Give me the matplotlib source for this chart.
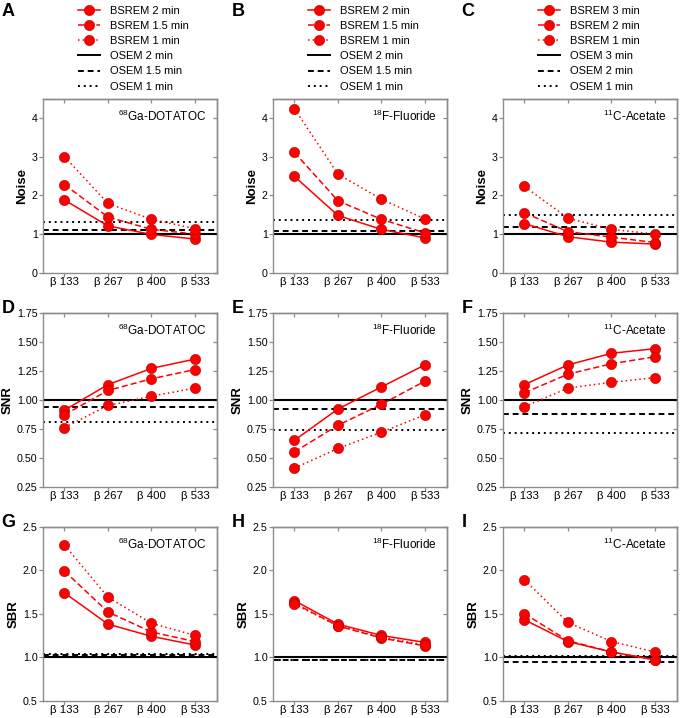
"""Noise / SNR / SBR of BSREM vs OSEM for three tracers, 3x3 panel figure."""

import matplotlib

matplotlib.use("Agg")
import matplotlib.pyplot as plt
from matplotlib.lines import Line2D

RED = "#ff0000"
RED_EDGE = "#b00000"
GREY = "#8c8c8c"

plt.rcParams.update({
    "font.family": ["Liberation Sans", "DejaVu Sans"],
    "mathtext.default": "regular",
    "font.size": 8.2,
    "axes.edgecolor": GREY, "axes.linewidth": 1.0,
    "xtick.color": GREY, "ytick.color": GREY,
    "xtick.labelcolor": "black", "ytick.labelcolor": "black",
    "xtick.labelsize": 8.2, "ytick.labelsize": 7.7,
})

BETAS = ["β 133", "β 267", "β 400", "β 533"]
TRACERS = ["$^{68}$Ga-DOTATOC", "$^{18}$F-Fluoride", "$^{11}$C-Acetate"]
SCAN_TIMES = [
    ["2 min", "1.5 min", "1 min"],
    ["2 min", "1.5 min", "1 min"],
    ["3 min", "2 min", "1 min"],
]

# BSREM curves per tracer: longest, middle, shortest scan time
NOISE_GA = [[1.88, 1.21, 0.99, 0.87], [2.28, 1.44, 1.12, 1.00], [3.00, 1.79, 1.38, 1.14]]
NOISE_F = [[2.49, 1.48, 1.12, 0.90], [3.11, 1.86, 1.38, 1.03], [4.24, 2.55, 1.90, 1.39]]
NOISE_C = [[1.27, 0.93, 0.79, 0.74], [1.55, 1.06, 0.92, 0.78], [2.23, 1.41, 1.12, 1.00]]

SNR_GA = [[0.91, 1.13, 1.27, 1.35], [0.87, 1.08, 1.18, 1.26], [0.76, 0.95, 1.03, 1.10]]
SNR_F = [[0.65, 0.92, 1.11, 1.30], [0.55, 0.78, 0.96, 1.16], [0.41, 0.58, 0.72, 0.87]]
SNR_C = [[1.13, 1.30, 1.40, 1.44], [1.06, 1.22, 1.31, 1.37], [0.94, 1.10, 1.15, 1.19]]

SBR_GA = [[1.74, 1.38, 1.24, 1.14], [1.99, 1.52, 1.29, 1.18], [2.29, 1.69, 1.39, 1.25]]
SBR_F = [[1.65, 1.38, 1.25, 1.17], [1.62, 1.36, 1.22, 1.13], [1.61, 1.36, 1.23, 1.14]]
SBR_C = [[1.43, 1.18, 1.06, 0.97], [1.50, 1.19, 1.06, 0.97], [1.89, 1.40, 1.18, 1.06]]

# OSEM reference levels per tracer: longest, middle, shortest scan time
OSEM_NOISE = [[1.00, 1.11, 1.31], [1.00, 1.09, 1.37], [1.00, 1.17, 1.50]]
OSEM_SNR = [[1.00, 0.94, 0.81], [1.00, 0.92, 0.74], [1.00, 0.874, 0.71]]
OSEM_SBR = [[1.00, 1.03, 1.04], [1.00, 0.97, 0.965], [1.00, 0.95, 1.01]]

ROWS = [
    ("Noise", [NOISE_GA, NOISE_F, NOISE_C], OSEM_NOISE, (0, 4.5), [0, 1, 2, 3, 4], "{:.0f}"),
    ("SNR", [SNR_GA, SNR_F, SNR_C], OSEM_SNR, (0.25, 1.75),
     [0.25, 0.5, 0.75, 1.0, 1.25, 1.5, 1.75], "{:.2f}"),
    ("SBR", [SBR_GA, SBR_F, SBR_C], OSEM_SBR, (0.5, 2.5), [0.5, 1.0, 1.5, 2.0, 2.5], "{:.1f}"),
]
LETTERS = ["ABC", "DEF", "GHI"]

BSREM_LS = ["-", (0, (4, 2)), (0, (1, 2))]
OSEM_LS = ["-", (0, (3, 2)), (0, (1, 2))]

W, H = 681, 718
COL_X = [42.7, 272.7, 502.7]
ROW_TOP = [98.7, 312.7, 526.7]
BOX = 174
YLABEL_X = [21.7, 7.8, 13.5]  # label centre, px left of the figure edge per row


def panel(fig, r, c):
    name, series, osem, ylim, yticks, fmt = ROWS[r]
    x0, top = COL_X[c], ROW_TOP[r]
    ax = fig.add_axes([x0 / W, 1 - (top + BOX) / H, BOX / W, BOX / H])
    xs = range(len(BETAS))
    for level, ls in zip(osem[c], OSEM_LS):
        ax.axhline(level, color="black", ls=ls, lw=1.5 if ls == "-" else 1.4, zorder=2)
    for vals, ls in zip(series[c], BSREM_LS):
        ax.plot(xs, vals, color=RED, ls=ls, lw=1.1, marker="o", ms=7.4,
                mfc=RED, mec=RED_EDGE, mew=0.4, zorder=3, clip_on=False)
    ax.set_xlim(-0.5, 3.5)
    ax.set_ylim(*ylim)
    ax.set_xticks(list(xs), BETAS)
    ax.set_yticks(yticks, [fmt.format(v) for v in yticks])
    ax.tick_params(direction="out", length=2.6, width=0.9)
    ax.tick_params(axis="y", pad=1)
    ax.tick_params(axis="x", pad=0.8)
    # inward ticks on the right and top spines
    sy = ax.secondary_yaxis("right")
    sy.set_yticks(yticks, [])
    sy.tick_params(direction="in", length=3.2, width=0.9)
    sx = ax.secondary_xaxis("top")
    sx.set_xticks(list(xs), [])
    sx.tick_params(direction="in", length=3.2, width=0.9)
    ax.set_ylabel(name, fontsize=9.5, fontweight="bold", va="center")
    ax.yaxis.set_label_coords((YLABEL_X[r] - COL_X[0]) / BOX, 0.5)
    ax.text(0.94, 0.9, TRACERS[c], transform=ax.transAxes, ha="right", va="center",
            fontsize=8.5)
    ly = 11 if r == 0 else top - 4
    fig.text((x0 - 41) / W, 1 - ly / H, LETTERS[r][c], fontsize=13, fontweight="bold",
             va="center", ha="left")
    return ax


def legend(fig, ax, c):
    handles = []
    for t, ls in zip(SCAN_TIMES[c], BSREM_LS):
        handles.append(Line2D([], [], color=RED, ls=ls, lw=1.1, marker="o", ms=7.4,
                              mfc=RED, mec=RED_EDGE, mew=0.4, label=f"BSREM {t}"))
    for t, ls in zip(SCAN_TIMES[c], OSEM_LS):
        handles.append(Line2D([], [], color="black", ls=ls, lw=1.4, label=f"OSEM {t}"))
    ax.legend(handles=handles, loc="upper left", frameon=False, fontsize=8,
              bbox_to_anchor=((COL_X[c] + 30) / W, 1.0), bbox_transform=fig.transFigure,
              borderpad=0.0, handlelength=2.0, handletextpad=0.9, labelspacing=0.47,
              numpoints=1)


def main():
    fig = plt.figure(figsize=(W / 100, H / 100), dpi=100)
    for r in range(3):
        for c in range(3):
            ax = panel(fig, r, c)
            if r == 0:
                legend(fig, ax, c)
    fig.savefig("out.png", dpi=100)
    plt.close(fig)


if __name__ == "__main__":
    main()
